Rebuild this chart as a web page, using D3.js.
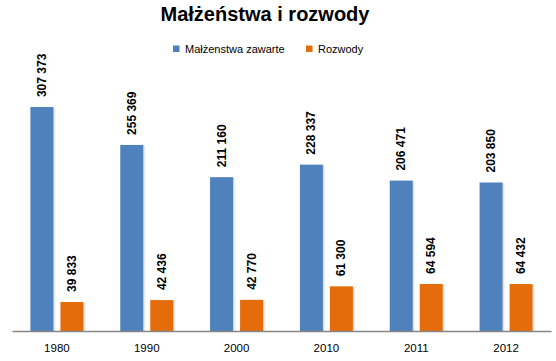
<!DOCTYPE html>
<html><head><meta charset="utf-8">
<script src="https://cdn.jsdelivr.net/npm/d3@7"></script>
<style>body{margin:0;background:#fff}svg{display:block}</style>
</head><body><svg id="c" width="556" height="361"></svg>
<script>
const categories = ["1980","1990","2000","2010","2011","2012"];
const seriesNames = ["Małżenstwa zawarte","Rozwody"];
const marriages = [307373,255369,211160,228337,206471,203850];
const divorces = [39833,42436,42770,61300,64594,64432];
const colors = ["#4F81BD","#E46C0A"];

(function(){
const svg = d3.select("#c");
const plotL = 12, plotR = 551, base = 331, plotT = 76;
const x = d3.scaleBand().domain(categories).range([plotL, plotR]).paddingInner(0).paddingOuter(0);
const y = d3.scaleLinear().domain([0, 350000]).range([base, plotT]);
const barW = 23, gap = 7;
const fmt = v => { const s = String(v); return s.length > 3 ? s.slice(0, s.length-3) + " " + s.slice(-3) : s; };

const defs = svg.append("defs");
const g = defs.append("linearGradient").attr("id","sh");
g.append("stop").attr("offset","0").attr("stop-color","#bbb").attr("stop-opacity",0.7);
g.append("stop").attr("offset","1").attr("stop-color","#ddd").attr("stop-opacity",0);

const series = [marriages, divorces];
series.forEach((vals, si) => {
  const xo = c => x(c) + x.bandwidth()/2 - (barW*2+gap)/2 + si*(barW+gap);
  const gg = svg.append("g");
  gg.selectAll("rect.s").data(categories).join("rect").attr("class","s")
    .attr("x", c => xo(c) + barW).attr("y", (c,i) => y(vals[i]) + 1)
    .attr("width", 3).attr("height", (c,i) => base - y(vals[i]) - 1)
    .attr("fill", "url(#sh)");
  gg.selectAll("rect.b").data(categories).join("rect").attr("class","b")
    .attr("x", c => xo(c)).attr("y", (c,i) => y(vals[i]))
    .attr("width", barW).attr("height", (c,i) => base - y(vals[i]))
    .attr("fill", colors[si]);
  gg.selectAll("text").data(categories).join("text")
    .attr("transform", (c,i) => `translate(${xo(c)+barW/2+4},${y(vals[i]) - 10}) rotate(-90)`)
    .attr("font-family","Liberation Sans, Arial, sans-serif")
    .attr("font-weight","bold").attr("font-size","12px").attr("fill","#000")
    .text((c,i) => fmt(vals[i]));
});

const ax = svg.append("g").attr("transform", `translate(0,${base})`)
  .call(d3.axisBottom(x).tickSize(0).tickPadding(13));
ax.select(".domain").attr("stroke","#868686").attr("stroke-width",1.3);
ax.selectAll("text").attr("font-family","Liberation Sans, Arial, sans-serif").attr("font-size","11.5px").attr("fill","#000");

svg.append("text").attr("x", 265).attr("y", 21).attr("text-anchor","middle")
  .attr("font-family","Liberation Sans, Arial, sans-serif").attr("font-weight","bold")
  .attr("font-size","20px").attr("fill","#000").text("Małżeństwa i rozwody");

const leg = svg.append("g");
const legX = [173, 306];
seriesNames.forEach((n, i) => {
  leg.append("rect").attr("x", legX[i]).attr("y", 45.5).attr("width", 6.5).attr("height", 6.5).attr("fill", colors[i]);
  leg.append("text").attr("x", legX[i] + 12).attr("y", 53)
    .attr("font-family","Liberation Sans, Arial, sans-serif").attr("font-size","11px").attr("fill","#000").text(n);
});
})();
</script></body></html>
